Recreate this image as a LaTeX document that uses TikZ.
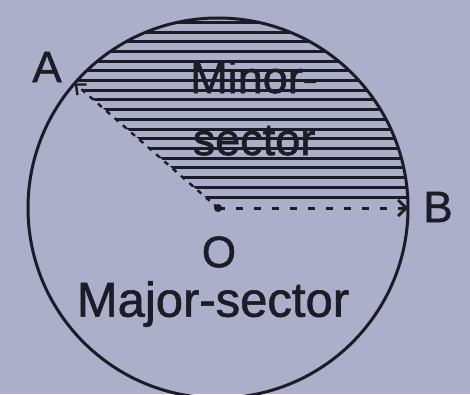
\documentclass[tikz,border=0pt]{standalone}
\usepackage{fontspec}
\setmainfont{Liberation Sans}
\newfontfamily\heavysans[FakeBold=1.2]{Liberation Sans}
\usetikzlibrary{arrows.meta,calc}
\definecolor{bg}{RGB}{172,174,202}
\definecolor{ink}{RGB}{28,28,38}
\tikzset{
  lbl/.style={font=\heavysans\fontsize{44}{48}\selectfont, text=ink, inner sep=0pt},
  hatchline/.style={draw=ink, line width=3pt},
  radius line/.style={draw=ink, line width=2.4pt, dash pattern=on 5pt off 6pt},
  radius dash/.style={draw=ink, line width=3pt, dash pattern=on 7pt off 11pt},
  rim/.style={draw=ink, line width=3pt}
}
\begin{document}
\begin{tikzpicture}[x=1pt,y=1pt]
\fill[bg] (0,0) rectangle (470,394);
\useasboundingbox (0,0) rectangle (470,394);
\coordinate (O) at (218,186);
\coordinate (A) at ($(O)+(139:190)$);
\coordinate (B) at ($(O)+(0:190)$);
% hatching of the minor sector
\begin{scope}
  \clip (O) -- (B) arc[start angle=0, end angle=139, radius=190] -- cycle;
  \foreach \k in {0,...,19} {
    \draw[hatchline] (0,{197+\k*9.7}) -- (470,{197+\k*9.7});
  }
\end{scope}
% circle
\draw[rim] (O) circle[radius=190];
% radii
\draw[radius line, -{Straight Barb[length=8pt,width=14pt,line width=2.4pt]}] (O) -- (A);
\draw[radius dash, -{Straight Barb[length=8pt,width=16pt,line width=2.8pt]}] (O) -- (B);
\fill[ink] (O) circle[radius=4pt];
% labels
\node[lbl] (la) at (47,327) {A};
\node[lbl] (lb) at (438,187) {B};
\node[lbl] (lo) at (219,142) {O};
\node[lbl, align=center, font=\heavysans\fontsize{45}{62}\selectfont] (lmin) at (254,286) {Minor-\\sector};
\node[lbl, font=\heavysans\fontsize{49}{52}\selectfont] (lmaj) at (213,90) {Major-sector};
\end{tikzpicture}
\end{document}
